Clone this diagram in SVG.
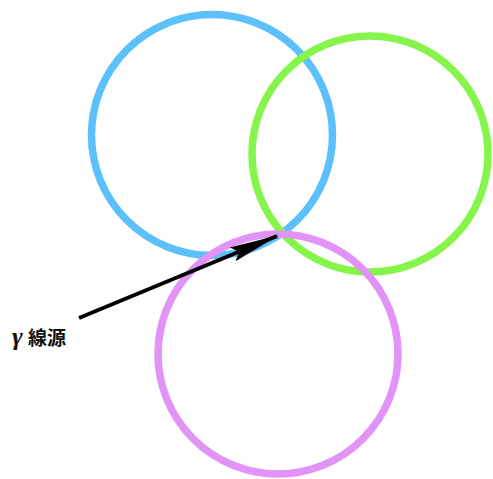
<svg xmlns="http://www.w3.org/2000/svg" width="493" height="479" viewBox="0 0 493 479">
<defs>
<style>
.c{fill:none;stroke-width:7.5}
.lbl{font-family:"Liberation Sans","Noto Sans CJK JP",sans-serif;font-size:19px;font-weight:bold;fill:#111}
.g{font-family:"Liberation Serif",serif;font-style:italic;font-size:26px}
</style>
<marker id="ah" markerWidth="50" markerHeight="18" refX="48" refY="9" orient="auto" markerUnits="userSpaceOnUse">
<path d="M0,1.5 L50,9 L0,16.5 L7,9 Z" fill="#000"/>
</marker>
</defs>
<rect width="493" height="479" fill="#fff"/>
<g id="blue"><circle class="c" cx="212" cy="135" r="120.5" stroke="#5bc0fc"/></g>
<g id="green"><circle class="c" cx="370" cy="154" r="118" stroke="#86f54b"/></g>
<g id="purple"><circle class="c" cx="278" cy="354" r="120" stroke="#e193f7"/></g>
<g id="connectors">
<line x1="79" y1="318" x2="277" y2="236" stroke="#000" stroke-width="4" marker-end="url(#ah)"/>
</g>
<g id="label"><text class="lbl" x="12" y="345"><tspan class="g">γ</tspan> 線源</text></g>
</svg>
